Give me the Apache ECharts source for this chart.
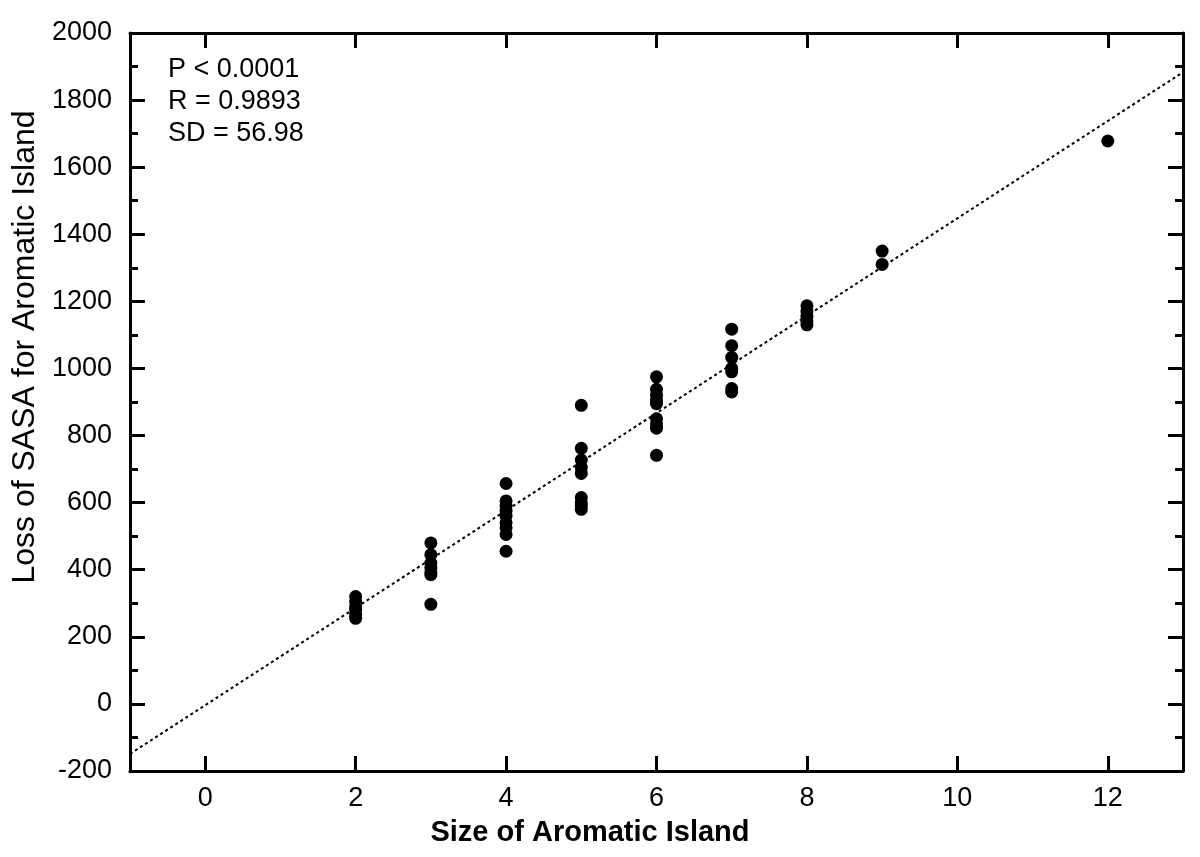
<!DOCTYPE html>
<html>
<head>
<meta charset="utf-8">
<script src="https://cdn.jsdelivr.net/npm/echarts@6/dist/echarts.min.js"></script>
<style>
html,body{margin:0;padding:0;background:#fff;}
#chart{width:1200px;height:857px;}
</style>
</head>
<body>
<div id="chart"></div>
<script>
// Data
const xSizes = [2, 3, 4, 5, 6, 7, 8, 9, 12];
const sasaAt2 = [320, 305, 290, 280, 265, 255];
const sasaAt3 = [480, 445, 420, 405, 390, 385, 297];
const sasaAt4 = [657, 605, 590, 575, 560, 540, 525, 505, 455];
const sasaAt5 = [890, 762, 727, 705, 687, 615, 600, 590, 580];
const sasaAt6 = [975, 938, 920, 905, 895, 850, 835, 822, 741];
const sasaAt7 = [1117, 1068, 1033, 1000, 990, 940, 930];
const sasaAt8 = [1187, 1170, 1155, 1140, 1130];
const sasaAt9 = [1350, 1310];
const sasaAt12 = [1678];
const fitLine = [[-1, -149], [13, 1883]];
const xTickValues = [0, 2, 4, 6, 8, 10, 12];
const statsText = ['P < 0.0001', 'R = 0.9893', 'SD = 56.98'];
const xTitle = 'Size of Aromatic Island';
const yTitle = 'Loss of SASA for Aromatic Island';

const groups = [sasaAt2, sasaAt3, sasaAt4, sasaAt5, sasaAt6, sasaAt7, sasaAt8, sasaAt9, sasaAt12];
const points = [];
groups.forEach((g, i) => g.forEach(v => points.push([xSizes[i], v])));

const FONT = '"Liberation Sans", Arial, sans-serif';
const chart = echarts.init(document.getElementById('chart'), null, {renderer: 'canvas'});

const axisLine = {show: true, onZero: false, lineStyle: {color: '#000', width: 3}};
const tickStyle = {color: '#000', width: 3};

chart.setOption({
  animation: false,
  backgroundColor: '#fff',
  grid: {left: 130, right: 17, top: 33, bottom: 86, containLabel: false},
  xAxis: [{
    type: 'value', min: -1, max: 13, position: 'bottom',
    axisLine: axisLine,
    axisTick: {show: true, inside: true, length: 15, lineStyle: tickStyle, customValues: xTickValues},
    axisLabel: {show: true, color: '#000', fontSize: 27, fontFamily: FONT, margin: 14, customValues: xTickValues},
    splitLine: {show: false}
  }, {
    type: 'value', min: -1, max: 13, position: 'top',
    axisLine: axisLine,
    axisTick: {show: true, inside: true, length: 15, lineStyle: tickStyle, customValues: xTickValues},
    axisLabel: {show: false},
    splitLine: {show: false}
  }],
  yAxis: [{
    type: 'value', min: -200, max: 2000, interval: 200, position: 'left',
    axisLine: axisLine,
    axisTick: {show: true, inside: true, length: 15, lineStyle: tickStyle},
    minorTick: {show: true, splitNumber: 2, length: 8, lineStyle: {color: '#000', width: 3}},
    axisLabel: {show: true, color: '#000', fontSize: 27, fontFamily: FONT, margin: 18,
      formatter: v => String(v)},
    splitLine: {show: false}
  }, {
    type: 'value', min: -200, max: 2000, interval: 200, position: 'right',
    axisLine: axisLine,
    axisTick: {show: true, inside: true, length: 15, lineStyle: tickStyle},
    minorTick: {show: true, splitNumber: 2, length: 8, lineStyle: {color: '#000', width: 3}},
    axisLabel: {show: false},
    splitLine: {show: false}
  }],
  series: [{
    type: 'line', data: fitLine, xAxisIndex: 0, yAxisIndex: 0,
    symbol: 'none', silent: true,
    lineStyle: {color: '#000', width: 2, type: [3, 3]}
  }, {
    type: 'scatter', data: points, xAxisIndex: 0, yAxisIndex: 0,
    symbol: 'circle', symbolSize: 13,
    itemStyle: {color: '#000', opacity: 1}
  }],
  graphic: statsText.map((t, i) => ({
    type: 'text', left: 168, top: 56 + i * 32,
    style: {text: t, fill: '#000', font: '27px ' + FONT}
  })).concat([{
    type: 'text', x: 590, y: 833,
    style: {text: xTitle, fill: '#000', font: 'bold 29px ' + FONT, align: 'center', verticalAlign: 'middle'}
  }, {
    type: 'text', x: 25, y: 347, rotation: Math.PI / 2,
    style: {text: yTitle, fill: '#000', font: '32px ' + FONT, align: 'center', verticalAlign: 'middle'}
  }])
});
</script>
</body>
</html>
